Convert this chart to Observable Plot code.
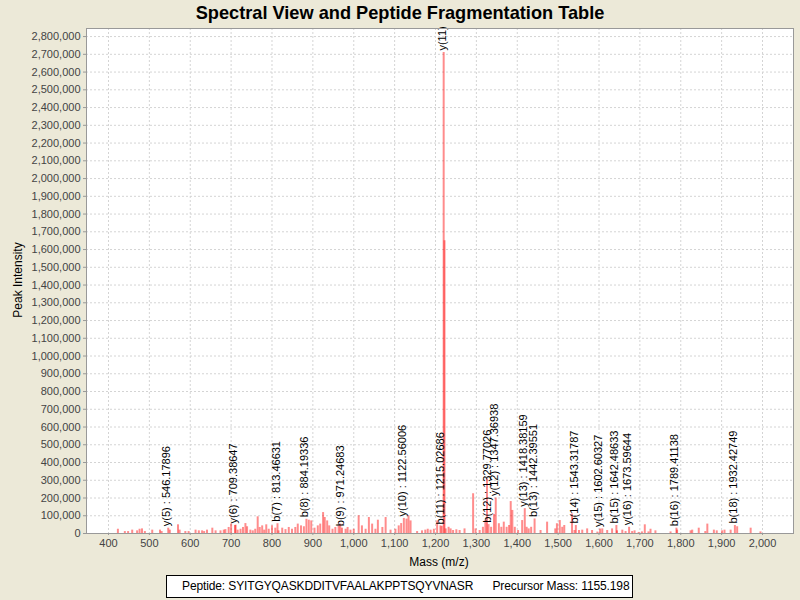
<!DOCTYPE html>
<html><head><meta charset="utf-8">
<script src="https://cdn.jsdelivr.net/npm/d3@7"></script>
<script src="https://cdn.jsdelivr.net/npm/@observablehq/plot@0.6"></script>
<style>
body{margin:0;background:#ECE9D8;font-family:"Liberation Sans",Arial,sans-serif;}
#wrap{position:relative;width:800px;height:600px;overflow:hidden;background:#ECE9D8;}
#chart{position:absolute;left:0;top:0;}
#title{position:absolute;left:0;top:2px;width:800px;text-align:center;font-weight:bold;font-size:18.2px;line-height:22px;color:#000;}
#ylab{position:absolute;left:18px;top:280px;font-size:12px;transform:translate(-50%,-50%) rotate(-90deg);white-space:nowrap;color:#000;}
#xlab{position:absolute;left:439px;top:562px;font-size:12px;transform:translate(-50%,-50%);white-space:nowrap;color:#000;}
#legend{position:absolute;left:166px;top:575px;width:467px;height:23px;box-sizing:border-box;border:1px solid #000;background:#fff;font-size:12px;line-height:21px;white-space:pre;text-align:left;padding-left:15px;letter-spacing:-0.12px;color:#000;}
</style>
</head><body>
<div id="wrap">
<div id="chart"></div>
<div id="title">Spectral View and Peptide Fragmentation Table</div>
<div id="ylab">Peak Intensity</div>
<div id="xlab">Mass (m/z)</div>
<div id="legend">Peptide: SYITGYQASKDDITVFAALAKPPTSQYVNASR      Precursor Mass: 1155.198</div>
</div>
<script>
// peaks: m/z and intensity (in thousands)
const peakMz = [423,440,448,458,470,476,482,489,507,526,530,546.18,550,570,574,588,596,613,621,629,634,641,654,662,674,682,686,694,700,709.39,711,716,723,729,735,739,747,753,759,765,770,776,781,786,792,800,808,813.47,816,825,833,841,849,857,863,871,878,884.19,890,896,904,912,918,925,929,935,940,948,955,963,967,971.25,980,985,992,1000,1012,1020,1029,1037,1045,1053,1059,1070,1078,1090,1102,1110,1116,1122.56,1129,1134,1139,1155,1167,1175,1181,1188,1196,1204,1212,1215.03,1220,1222,1225,1232,1237,1243,1251,1259,1271,1292,1298,1308,1316,1322,1326,1329.77,1336,1343,1347.37,1355,1361,1367,1374,1380,1384,1388,1394,1402,1412,1418.38,1423,1428,1434,1442.4,1457,1473,1493,1497,1504,1510,1515,1534,1540,1543.32,1551,1559,1571,1583,1596,1602.6,1608,1620,1632,1642.49,1644,1657,1665,1673.6,1681,1687,1697,1705,1712,1721,1726,1738,1775,1789.41,1791,1824,1828,1844,1860,1865,1881,1888,1901,1907,1922,1932.43,1938,1971,1995];
const peakK = [24,11,11,19,15,24,26,11,19,19,11,30,19,49,19,11,11,19,15,15,11,19,30,15,15,19,22,34,53,45,47,19,24,34,56,38,19,15,24,94,34,43,19,49,24,43,30,55,15,30,22,34,24,34,53,43,38,80,75,71,30,43,53,118,90,71,43,24,34,43,53,30,24,34,19,24,100,43,24,90,53,24,75,34,90,19,24,43,56,85,81,100,71,11,15,19,24,19,24,71,43,40,2710,1650,26,35,26,17,21,17,26,224,26,17,35,73,307,50,35,107,200,55,35,64,35,45,180,130,35,17,73,140,35,26,35,82,17,64,26,55,73,35,45,110,17,45,17,19,26,17,8,25,26,17,26,45,15,19,11,35,11,15,6,9,49,9,24,15,9,30,19,15,19,30,11,53,19,15,15,19,19,45,38,30,9];

// fragment annotations
const annLabel = ["y(5) : 546.17896","y(6) : 709.38647","b(7) : 813.46631","b(8) : 884.19336","b(9) : 971.24683","y(10) : 1122.56006","b(11) : 1215.02686","y(11)","b(12) : 1329.77026","y(12) : 1347.36938","y(13) : 1418.38159","b(13) : 1442.39551","b(14) : 1543.31787","y(15) : 1602.60327","b(15) : 1642.48633","y(16) : 1673.59644","b(16) : 1789.41138","b(18) : 1932.42749"];
const annMz = [546.18,709.39,813.47,884.19,971.25,1122.56,1215.03,1220,1329.77,1347.37,1418.38,1442.4,1543.32,1602.6,1642.49,1673.6,1789.41,1932.43];
const annK = [30,45,55,80,30,85,40,2710,50,200,140,82,45,25,45,35,30,45];

const xTicks = d3.range(400, 2001, 100);
const yTicks = d3.range(0, 2800001, 100000);

const peaks = peakMz.map((m, i) => ({mz: m, intensity: peakK[i] * 1000}));
const ann = annMz.map((m, i) => ({mz: m, intensity: annK[i] * 1000, label: annLabel[i]}));

const font = "Liberation Sans, Arial, sans-serif";
const fmt = d3.format(",");

const chart = Plot.plot({
  width: 800,
  height: 600,
  marginLeft: 86,
  marginRight: 7,
  marginTop: 28,
  marginBottom: 67,
  style: {background: "transparent", fontFamily: font},
  x: {domain: [346.2, 2075.8], axis: null},
  y: {domain: [0, 2845500], axis: null},
  marks: [
    Plot.frame({fill: "white", stroke: "none"}),
    Plot.ruleX(xTicks, {stroke: "#d4d4d4", strokeDasharray: "2,2", strokeWidth: 1}),
    Plot.ruleY(yTicks, {stroke: "#d4d4d4", strokeDasharray: "2,2", strokeWidth: 1}),
    Plot.ruleX(peaks, {x: "mz", y1: 0, y2: "intensity", stroke: "#ff0000", strokeOpacity: 0.45, strokeWidth: 2}),
    Plot.text(ann, {x: "mz", y: "intensity", text: "label", rotate: -90, textAnchor: "start", lineAnchor: "middle", dx: -1.5, dy: -2, fontSize: 11, fill: "#000", fontFamily: font}),
    Plot.frame({stroke: "#999", strokeWidth: 1}),
    Plot.axisX(xTicks, {tickFormat: fmt, tickSize: 2, tickPadding: 4, fontSize: 11, fill: "#444", stroke: "#999", label: null}),
    Plot.axisY(yTicks, {tickFormat: fmt, tickSize: 3, tickPadding: 3, fontSize: 11, fill: "#444", stroke: "#999", label: null})
  ]
});
document.getElementById("chart").appendChild(chart);
</script>
</body></html>
